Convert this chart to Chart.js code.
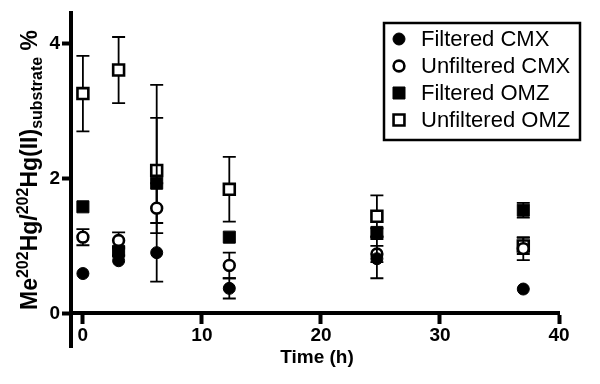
<!DOCTYPE html>
<html>
<head>
<meta charset="utf-8">
<script src="https://cdn.jsdelivr.net/npm/chart.js@4/dist/chart.umd.min.js"></script>
<style>
  html, body { margin: 0; padding: 0; background: #fff; }
  #wrap { width: 600px; height: 384px; }
</style>
</head>
<body>
<div id="wrap"><canvas id="chart"></canvas></div>
<script>
// sampling times (h)
var times = [0, 3, 6.2, 12.3, 24.7, 37];

// means and SD per series
var filteredCMX = [0.59, 0.78, 0.90, 0.37, 0.81, 0.36];
var filteredCMXsd = [0, 0, 0, 0.15, 0.29, 0];
var unfilteredCMX = [1.13, 1.08, 1.56, 0.71, 0.88, 0.96];
var unfilteredCMXsd = [0.12, 0.12, 0.37, 0.19, 0.12, 0.17];
var filteredOMZ = [1.58, 0.92, 1.93, 1.13, 1.20, 1.53];
var filteredOMZsd = [0, 0.06, 1.46, 0, 0.06, 0.11];
var unfilteredOMZ = [3.26, 3.61, 2.12, 1.84, 1.44, 1.00];
var unfilteredOMZsd = [0.56, 0.49, 0.78, 0.48, 0.31, 0.12];

var seriesLabels = ['Filtered CMX', 'Unfiltered CMX', 'Filtered OMZ', 'Unfiltered OMZ'];
var xTicks = [0, 10, 20, 30, 40];
var yTicks = [0, 2, 4];

var FONT = '"Liberation Sans", Arial, sans-serif';

function points(vals) {
    return times.map(function(t, i) { return { x: t, y: vals[i] }; });
}

function series(label, vals, style, hollow, radius) {
    return {
        label: label,
        data: points(vals),
        pointStyle: style,
        pointRadius: radius,
        pointHoverRadius: radius,
        backgroundColor: hollow ? '#ffffff' : '#000000',
        borderColor: '#000000',
        pointBorderWidth: hollow ? 2.6 : 1,
        showLine: false
    };
}

var sdSets = [filteredCMXsd, unfilteredCMXsd, filteredOMZsd, unfilteredOMZsd];

// error bars drawn right before each series so markers sit on top
var errorBars = {
    id: 'errorBars',
    beforeDatasetDraw: function(chart, args) {
        var ds = chart.data.datasets[args.index];
        var sd = sdSets[args.index];
        var xs = chart.scales.x, ys = chart.scales.y;
        var ctx = chart.ctx;
        ctx.save();
        ctx.strokeStyle = '#000';
        ctx.lineWidth = 1.8;
        ds.data.forEach(function(p, i) {
            if (!sd[i]) return;
            var px = xs.getPixelForValue(p.x);
            var top = ys.getPixelForValue(p.y + sd[i]);
            var bot = ys.getPixelForValue(p.y - sd[i]);
            ctx.beginPath();
            ctx.moveTo(px, top); ctx.lineTo(px, bot);
            ctx.moveTo(px - 6.5, top); ctx.lineTo(px + 6.5, top);
            ctx.moveTo(px - 6.5, bot); ctx.lineTo(px + 6.5, bot);
            ctx.stroke();
        });
        ctx.restore();
    }
};

// axis titles and boxed legend
var decorations = {
    id: 'decorations',
    afterDraw: function(chart) {
        var ctx = chart.ctx;
        var area = chart.chartArea;
        ctx.save();
        ctx.fillStyle = '#000';

        // y title with super/subscripts
        var parts = [['Me', 0], ['202', 1], ['Hg/', 0], ['202', 1], ['Hg(II)', 0], ['substrate', -1], [' %', 0]];
        var big = 'bold 23px ' + FONT, small = 'bold 16px ' + FONT;
        var total = 0;
        parts.forEach(function(p) {
            ctx.font = p[1] === 0 ? big : small;
            total += ctx.measureText(p[0]).width;
        });
        ctx.translate(37, 170);
        ctx.rotate(-Math.PI / 2);
        ctx.textBaseline = 'alphabetic';
        ctx.textAlign = 'left';
        var pos = -total / 2;
        parts.forEach(function(p) {
            ctx.font = p[1] === 0 ? big : small;
            var dy = p[1] === 1 ? -9 : (p[1] === -1 ? 5 : 0);
            ctx.fillText(p[0], pos, dy);
            pos += ctx.measureText(p[0]).width;
        });
        ctx.setTransform(1, 0, 0, 1, 0, 0);

        // x title
        ctx.font = 'bold 19px ' + FONT;
        ctx.textAlign = 'center';
        ctx.textBaseline = 'middle';
        ctx.fillText('Time (h)', (area.left + area.right) / 2 + 2, 358);

        // legend
        var lx = 384, ly = 23, lw = 196, lh = 117;
        ctx.lineWidth = 2.5;
        ctx.strokeStyle = '#000';
        ctx.fillStyle = '#fff';
        ctx.fillRect(lx, ly, lw, lh);
        ctx.strokeRect(lx, ly, lw, lh);
        ctx.font = '22px ' + FONT;
        ctx.textAlign = 'left';
        ctx.textBaseline = 'middle';
        chart.data.datasets.forEach(function(ds, i) {
            var cy = 39 + i * 27;
            ctx.fillStyle = ds.backgroundColor;
            ctx.strokeStyle = ds.borderColor;
            ctx.lineWidth = ds.pointBorderWidth;
            Chart.helpers.drawPoint(ctx, {
                pointStyle: ds.pointStyle,
                radius: ds.pointRadius,
                borderWidth: ds.pointBorderWidth,
                rotation: 0
            }, 399, cy);
            ctx.fillStyle = '#000';
            ctx.fillText(ds.label, 421, cy + 1);
        });
        ctx.restore();
    }
};

var tickFont = { family: FONT, size: 19, weight: 'bold' };

new Chart(document.getElementById('chart'), {
    type: 'scatter',
    data: {
        datasets: [
            series(seriesLabels[0], filteredCMX, 'circle', false, 6),
            series(seriesLabels[1], unfilteredCMX, 'circle', true, 5.4),
            series(seriesLabels[2], filteredOMZ, 'rect', false, 8.5),
            series(seriesLabels[3], unfilteredOMZ, 'rect', true, 7.7)
        ]
    },
    options: {
        responsive: true,
        maintainAspectRatio: false,
        animation: false,
        devicePixelRatio: 1,
        layout: { padding: { left: 0, right: 41, top: 12, bottom: 37 } },
        plugins: {
            legend: { display: false },
            tooltip: { enabled: false },
            title: { display: false }
        },
        scales: {
            x: {
                type: 'linear',
                position: { y: 0 },
                min: -1,
                max: 40,
                afterBuildTicks: function(scale) {
                    scale.ticks = xTicks.map(function(v) { return { value: v }; });
                },
                border: { display: true, color: '#000', width: 4 },
                grid: { drawOnChartArea: false, drawTicks: true, tickLength: 9, tickWidth: 4, tickColor: '#000' },
                ticks: { color: '#000', font: tickFont, padding: 2, maxRotation: 0 }
            },
            y: {
                type: 'linear',
                position: 'left',
                min: -0.5,
                max: 4.45,
                afterBuildTicks: function(scale) {
                    scale.ticks = yTicks.map(function(v) { return { value: v }; });
                },
                afterFit: function(scale) { scale.width = 71; },
                border: { display: true, color: '#000', width: 4 },
                grid: { drawOnChartArea: false, drawTicks: true, tickLength: 9, tickWidth: 4, tickColor: '#000' },
                ticks: { color: '#000', font: tickFont, padding: 2 }
            }
        }
    },
    plugins: [errorBars, decorations]
});
</script>
</body>
</html>
